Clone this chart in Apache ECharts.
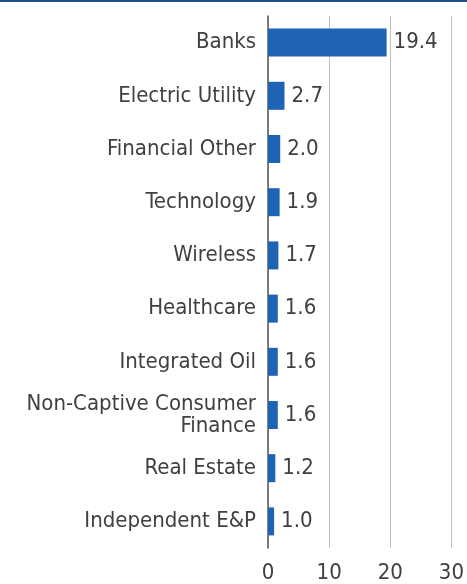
<!DOCTYPE html>
<html><head><meta charset="utf-8">
<script src="https://cdn.jsdelivr.net/npm/echarts@6/dist/echarts.min.js"></script>
<style>html,body{margin:0;padding:0;background:#fff}#c{width:467px;height:584px}</style>
</head><body><div id="c"></div>
<script>
const categories = ['Banks','Electric Utility','Financial Other','Technology','Wireless','Healthcare','Integrated Oil','Non-Captive Consumer\nFinance','Real Estate','Independent E&P'];
const values = [19.4, 2.7, 2.0, 1.9, 1.7, 1.6, 1.6, 1.6, 1.2, 1.0];
const xTicks = [0, 10, 20, 30];
const FONT = '"Liberation Sans Narrow","DejaVu Sans Condensed","Noto Sans",sans-serif';
const chart = echarts.init(document.getElementById('c'), null, {renderer:'canvas'});
chart.setOption({
  animation:false,
  graphic:[{type:'rect', shape:{x:0,y:0,width:467,height:2}, style:{fill:'#1f4e8c'}}],
  grid:{left:268, right:10, top:16, bottom:36, containLabel:false},
  xAxis:{type:'value', min:xTicks[0], max:xTicks[xTicks.length-1], interval:10,
    axisLine:{show:false}, axisTick:{show:false},
    splitLine:{show:true, lineStyle:{color:'#bfbfbf', width:1}},
    axisLabel:{color:'#404040', fontSize:22, fontFamily:FONT, margin:14}},
  yAxis:{type:'category', data:categories, inverse:true,
    axisLine:{show:true, lineStyle:{color:'#595959', width:1.5}}, axisTick:{show:false},
    axisLabel:{color:'#404040', fontSize:22, fontFamily:FONT, margin:12, lineHeight:22, align:'right'}},
  series:[{type:'bar', data:values, barWidth:28, itemStyle:{color:'#1f63b5'},
    label:{show:true, position:'right', distance:7, color:'#404040', fontSize:22, fontFamily:FONT,
      formatter:p=>p.value.toFixed(1)}}]
});
</script></body></html>
